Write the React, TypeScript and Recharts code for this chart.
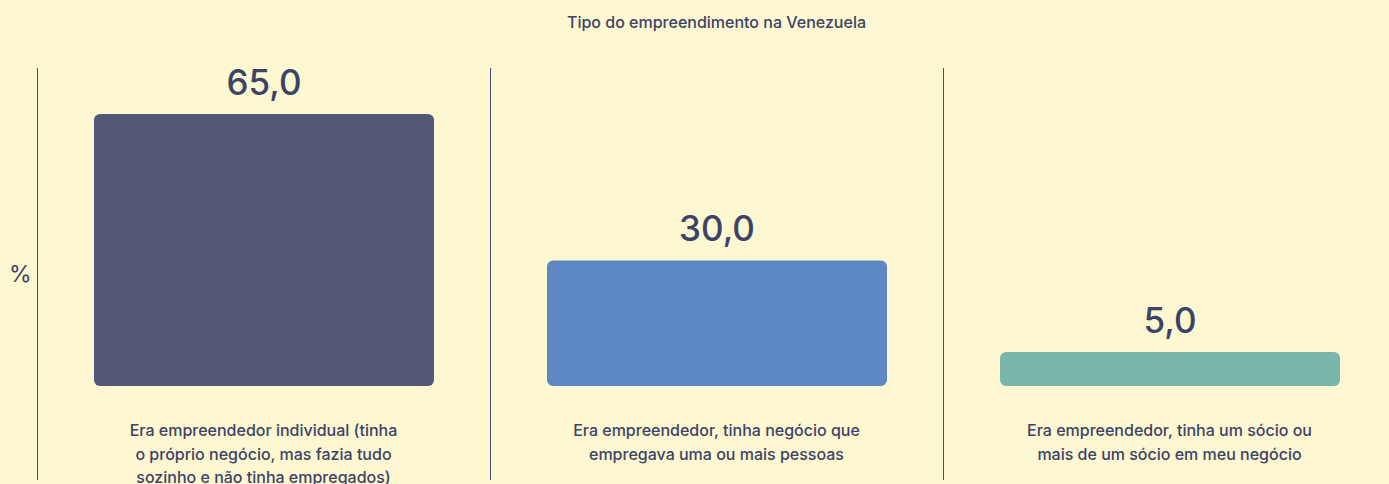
import React from 'react';
import { BarChart, Bar, XAxis, YAxis, Cell, LabelList } from 'recharts';

const categories = [
  'Era empreendedor individual (tinha\no próprio negócio, mas fazia tudo\nsozinho e não tinha empregados)',
  'Era empreendedor, tinha negócio que\nempregava uma ou mais pessoas',
  'Era empreendedor, tinha um sócio ou\nmais de um sócio em meu negócio',
];
const values = [65.0, 30.0, 5.0];
const colors = ['#535876', '#5e88c5', '#79b7ab'];
const title = 'Tipo do empreendimento na Venezuela';
const yLabel = '%';

const data = categories.map((c, i) => ({ name: c, value: values[i] }));

const FONT = 'Inter, Lato, sans-serif';
const TEXT = '#3c4366';

const Tick = (props: any) => {
  const { x, y, payload } = props;
  const half = payload && payload.offset != null ? payload.offset : 226.5;
  const lx = Math.round(x - half) + 0.5;
  const lines = String(payload.value).split('\n');
  return (
    <g>
      <line x1={lx} x2={lx} y1={68} y2={480} stroke="#4a5075" strokeWidth={1} />
      <text x={x} y={y} textAnchor="middle" fill={TEXT} fontFamily={FONT} fontSize={16} fontWeight={500}>
        {lines.map((l, i) => (
          <tspan key={i} x={x} y={436 + i * 23.5}>{l}</tspan>
        ))}
      </text>
    </g>
  );
};

const ValueLabel = (props: any) => {
  const { x, y, width, value } = props;
  return (
    <text x={x + width / 2} y={y - 19} textAnchor="middle" fill={TEXT} fontFamily={FONT} fontSize={35} fontWeight={500}>
      {Number(value).toFixed(1).replace('.', ',')}
    </text>
  );
};

export default function App() {
  return (
    <div style={{ position: 'absolute', left: 0, top: 0, width: 1389, height: 484, overflow: 'hidden', background: '#fdf7d2' }}>
      <div style={{ position: 'absolute', left: 37, width: 1359, top: 12, textAlign: 'center', fontFamily: FONT, fontSize: 16, fontWeight: 500, color: TEXT }}>
        {title}
      </div>
      <div style={{ position: 'absolute', left: 9, top: 260, fontFamily: FONT, fontSize: 23, color: TEXT }}>
        {yLabel}
      </div>
      <BarChart width={1400} height={484} data={data} margin={{ top: 114, right: 4, bottom: 0, left: 37 }}>
        <YAxis hide domain={[0, 65]} />
        <XAxis dataKey="name" axisLine={false} tickLine={false} height={98} interval={0} tick={<Tick />} />
        <Bar dataKey="value" barSize={340} radius={6} minPointSize={34} isAnimationActive={false}>
          {data.map((d, i) => (
            <Cell key={i} fill={colors[i]} />
          ))}
          <LabelList dataKey="value" content={<ValueLabel />} />
        </Bar>
      </BarChart>
    </div>
  );
}
